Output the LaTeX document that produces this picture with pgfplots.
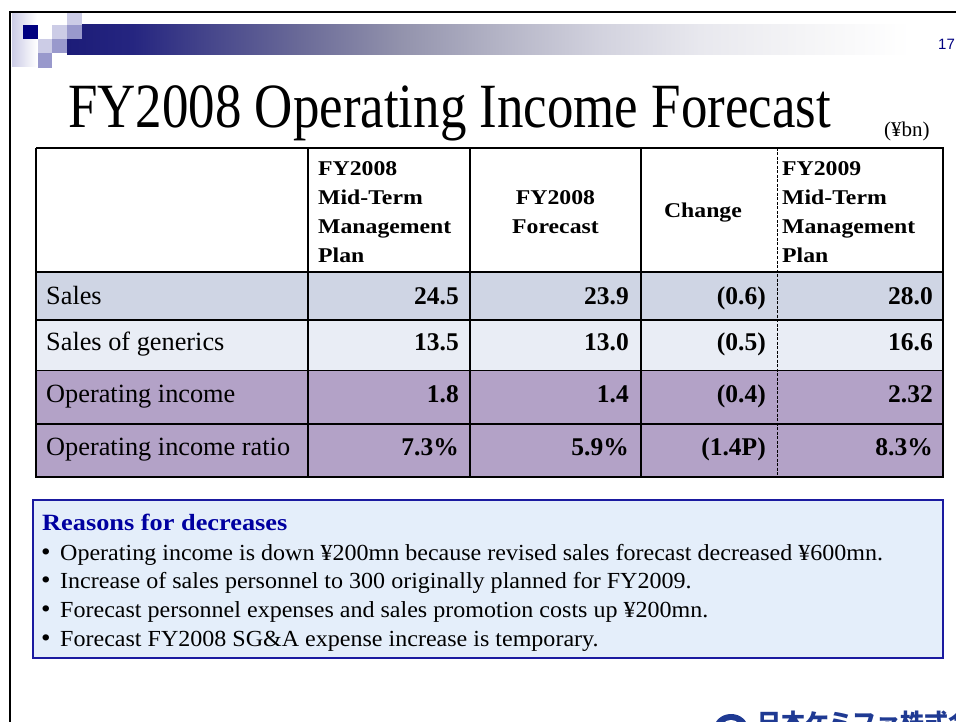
\documentclass[border=0pt]{standalone}
\usepackage{fontspec}
\setmainfont{Liberation Serif}
\newfontfamily\titlef[FakeStretch=0.84]{Liberation Serif}
\newfontfamily\hdrf[FakeStretch=1.13]{Liberation Serif}
\newfontfamily\bodyf[FakeStretch=1.045]{Liberation Serif}
\newfontfamily\sansf{Liberation Sans}
\newfontfamily\jpf{Noto Sans CJK JP}
\usepackage{pgfplots}
\pgfplotsset{compat=1.18}

\definecolor{navy}{HTML}{000080}
\definecolor{sqlight}{HTML}{CCCCE6}
\definecolor{sqmid}{HTML}{9999CC}
\definecolor{rowsales}{HTML}{CFD5E4}
\definecolor{rowgen}{HTML}{E9EDF5}
\definecolor{rowop}{HTML}{B3A2C7}
\definecolor{boxfill}{HTML}{E4EEFA}
\definecolor{boxline}{HTML}{1A1AA0}
\definecolor{headblue}{HTML}{0000A0}
\definecolor{logoblue}{HTML}{1F3A93}

\begin{document}
\begin{tikzpicture}
\useasboundingbox (0,0) rectangle (956pt,722pt);
\clip (0,0) rectangle (956pt,722pt);
\fill[white] (0,0) rectangle (956pt,722pt);
\begin{axis}[
    at={(0,0)}, anchor=south west,
    width=956pt, height=722pt, scale only axis,
    xmin=0, xmax=956, ymin=0, ymax=722,
    y dir=reverse,
    hide axis, clip=false,
]
% header band
\shade[left color=sqlight, right color=white] (12,13) rectangle (37,67);
\shade[left color={rgb,255:red,28;green,28;blue,120}, right color={rgb,255:red,37;green,37;blue,128}] (67,25) rectangle (133,55);
\shade[left color={rgb,255:red,37;green,37;blue,128}, right color={rgb,255:red,66;green,66;blue,138}] (132.5,25) rectangle (200,55);
\shade[left color={rgb,255:red,66;green,66;blue,138}, right color={rgb,255:red,106;green,106;blue,152}] (199.5,25) rectangle (300,55);
\shade[left color={rgb,255:red,106;green,106;blue,152}, right color={rgb,255:red,146;green,146;blue,172}] (299.5,25) rectangle (400,55);
\shade[left color={rgb,255:red,146;green,146;blue,172}, right color={rgb,255:red,180;green,180;blue,198}] (399.5,25) rectangle (500,55);
\shade[left color={rgb,255:red,180;green,180;blue,198}, right color={rgb,255:red,210;green,210;blue,222}] (499.5,25) rectangle (600,55);
\shade[left color={rgb,255:red,210;green,210;blue,222}, right color={rgb,255:red,232;green,232;blue,238}] (599.5,25) rectangle (700,55);
\shade[left color={rgb,255:red,232;green,232;blue,238}, right color={rgb,255:red,244;green,244;blue,246}] (699.5,25) rectangle (800,55);
\shade[left color={rgb,255:red,244;green,244;blue,246}, right color=white] (799.5,25) rectangle (910,55);
\fill[navy] (23,25) rectangle (38,39);
\fill[sqlight] (52,25) rectangle (67,39);
\fill[sqlight] (67,13) rectangle (82,25);
\fill[sqmid] (67,25) rectangle (82,39);
\fill[sqlight] (38,39) rectangle (52,53);
\fill[sqmid] (52,39) rectangle (67,53);
\fill[sqmid] (38,53) rectangle (52,68);
\draw[black, line width=2.2pt] (10,12) -- (960,12);
\draw[black, line width=2.2pt] (10,11) -- (10,730);
\node[anchor=base west, text=navy, font=\sansf\fontsize{15}{16}\selectfont, inner sep=0] at (938,50) {17};

% title
\node[anchor=base west, inner sep=0, font=\titlef\fontsize{63}{68}\selectfont] at (68,128) {FY2008 Operating Income Forecast};
\node[anchor=base west, inner sep=0, font=\fontsize{21}{24}\selectfont] at (884,137) {(¥bn)};

% table row fills
\addplot[draw=none, fill=rowsales, mark=none] coordinates {(36,272) (943,272) (943,320) (36,320)} --cycle;
\addplot[draw=none, fill=rowgen, mark=none] coordinates {(36,320) (943,320) (943,370.5) (36,370.5)} --cycle;
\addplot[draw=none, fill=rowop, mark=none] coordinates {(36,370.5) (943,370.5) (943,477) (36,477)} --cycle;

% table rules
\addplot[black, line width=1.5pt, mark=none] coordinates {(36,148) (943,148) (943,477) (36,477) (36,148)};
\addplot[black, line width=1.5pt, mark=none] coordinates {(36,272) (943,272)};
\addplot[black, line width=1.5pt, mark=none] coordinates {(36,320) (943,320)};
\addplot[black, line width=1.5pt, mark=none] coordinates {(36,370.5) (943,370.5)};
\addplot[black, line width=1.5pt, mark=none] coordinates {(36,424) (943,424)};
\addplot[black, line width=1.5pt, mark=none] coordinates {(308,148) (308,477)};
\addplot[black, line width=1.5pt, mark=none] coordinates {(470,148) (470,477)};
\addplot[black, line width=1.5pt, mark=none] coordinates {(641,148) (641,477)};
\addplot[black, line width=0.8pt, dash pattern=on 3pt off 1.5pt, mark=none] coordinates {(777,148) (777,477)};

% header text
\begin{scope}[every node/.style={inner sep=0, font=\hdrf\bfseries\fontsize{21}{24}\selectfont}]
\node[anchor=base west] at (318,176) {FY2008};
\node[anchor=base west] at (318,205) {Mid-Term};
\node[anchor=base west] at (318,234) {Management};
\node[anchor=base west] at (318,262) {Plan};
\node[anchor=base] at (555.5,205) {FY2008};
\node[anchor=base] at (555.5,234) {Forecast};
\node[anchor=base] at (703,218) {Change};
\node[anchor=base west] at (782,176) {FY2009};
\node[anchor=base west] at (782,205) {Mid-Term};
\node[anchor=base west] at (782,234) {Management};
\node[anchor=base west] at (782,262) {Plan};
\end{scope}

% row labels
\begin{scope}[every node/.style={inner sep=0, anchor=base west, font=\fontsize{26.3}{28}\selectfont}]
\node at (46,304) {Sales};
\node at (46,350.5) {Sales of generics};
\node at (46,402) {Operating income};
\node at (46,455) {Operating income ratio};
\end{scope}

% values
\begin{scope}[every node/.style={inner sep=0, anchor=base east, font=\bfseries\fontsize{25.5}{28}\selectfont}]
\node at (459,304) {24.5};   \node at (629,304) {23.9};   \node at (766,304) {(0.6)};  \node at (933,304) {28.0};
\node at (459,350.5) {13.5}; \node at (629,350.5) {13.0}; \node at (766,350.5) {(0.5)}; \node at (933,350.5) {16.6};
\node at (459,402) {1.8};    \node at (629,402) {1.4};    \node at (766,402) {(0.4)};  \node at (933,402) {2.32};
\node at (459,455) {7.3\%};  \node at (629,455) {5.9\%};  \node at (766,455) {(1.4P)}; \node at (933,455) {8.3\%};
\end{scope}

% reasons box
\addplot[draw=boxline, line width=1.2pt, fill=boxfill, mark=none] coordinates {(33,500) (943,500) (943,658) (33,658)} --cycle;
\node[anchor=base west, inner sep=0, text=headblue, font=\hdrf\bfseries\fontsize{23.3}{25}\selectfont] at (42,530) {Reasons for decreases};
\begin{scope}[every node/.style={inner sep=0, anchor=base west, font=\bodyf\fontsize{23}{25}\selectfont}]
\node[font=\bodyf\fontsize{26}{26}\selectfont] at (41,560) {•}; \node at (60,560) {Operating income is down ¥200mn because revised sales forecast decreased ¥600mn.};
\node[font=\bodyf\fontsize{26}{26}\selectfont] at (41,588.5) {•}; \node at (60,588.5) {Increase of sales personnel to 300 originally planned for FY2009.};
\node[font=\bodyf\fontsize{26}{26}\selectfont] at (41,617) {•}; \node at (60,617) {Forecast personnel expenses and sales promotion costs up ¥200mn.};
\node[font=\bodyf\fontsize{26}{26}\selectfont] at (41,646) {•}; \node at (60,646) {Forecast FY2008 SG\&A expense increase is temporary.};
\end{scope}

% company logo (cut by the page edge)
\fill[logoblue] (731,729) ellipse[x radius=17, y radius=15];
\fill[white] (731,729) ellipse[x radius=10, y radius=9];
\fill[red!60!white] (731,728) circle[radius=5];
\node[anchor=north west, inner sep=0, text=logoblue, font=\jpf\bfseries\fontsize{24}{26}\selectfont] at (757,710.5) {日本ケミファ株式会社};
\end{axis}
\end{tikzpicture}
\end{document}
